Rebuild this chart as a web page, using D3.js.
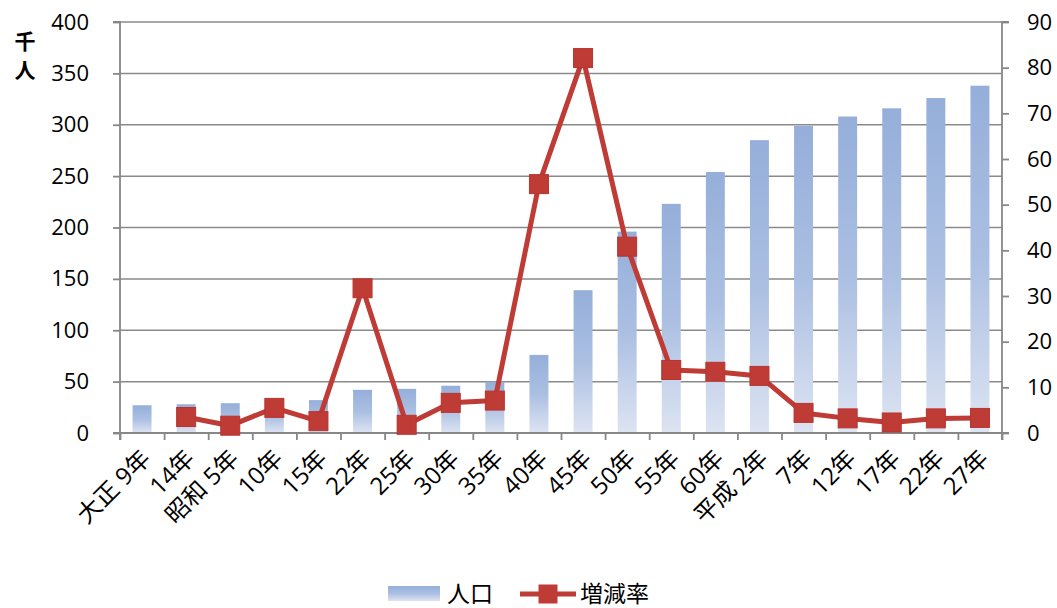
<!DOCTYPE html>
<html><head><meta charset="utf-8">
<script src="https://cdn.jsdelivr.net/npm/d3@7"></script>
<style>
body{margin:0;background:#fff;}
text{font-family:"Open Sans","Noto Sans CJK JP",sans-serif;fill:#000;}
</style></head>
<body><svg id="c" width="1057" height="608"></svg>
<script>
const categories = ["大正 9年","14年","昭和 5年","10年","15年","22年","25年","30年","35年","40年","45年","50年","55年","60年","平成 2年","7年","12年","17年","22年","27年"];
const population = [27,28,29,31,32,42,43,46,50,76,139,196,223,254,285,299,308,316,326,338];
const rate = [null,3.5,1.6,5.5,2.6,31.7,1.8,6.6,7.1,54.5,82.1,40.8,13.8,13.4,12.5,4.4,3.2,2.3,3.2,3.3];
const leftTicks = [0,50,100,150,200,250,300,350,400];
const rightTicks = [0,10,20,30,40,50,60,70,80,90];

const svg = d3.select("#c");
const L = 120, R = 1002, T = 22, B = 433;
const x = d3.scaleBand().domain(d3.range(categories.length)).range([L, R]).paddingInner(0.57).paddingOuter(0.285);
const xEdge = d3.scaleLinear().domain([0, categories.length]).range([L, R]);
const y = d3.scaleLinear().domain([0, 400]).range([B, T]);
const y2 = d3.scaleLinear().domain([0, 90]).range([B, T]);

const defs = svg.append("defs");
const g = defs.append("linearGradient").attr("id","bar").attr("x1",0).attr("y1",0).attr("x2",0).attr("y2",1);
g.append("stop").attr("offset","0%").attr("stop-color","#95afda");
g.append("stop").attr("offset","50%").attr("stop-color","#abbfe2");
g.append("stop").attr("offset","100%").attr("stop-color","#dde4f2");

// gridlines
svg.append("g").selectAll("line").data(leftTicks.filter(d=>d>0)).join("line")
  .attr("x1",L).attr("x2",R).attr("y1",d=>y(d)).attr("y2",d=>y(d))
  .attr("stroke","#8a8a8a").attr("stroke-width",1.5);

// bars
svg.append("g").selectAll("rect").data(population).join("rect")
  .attr("x",(d,i)=>x(i)).attr("width",x.bandwidth())
  .attr("y",d=>y(d)).attr("height",d=>B-y(d))
  .attr("fill","url(#bar)");

// axes
const axisColor = "#878787";
const la = svg.append("g").attr("transform",`translate(${L},0)`)
  .call(d3.axisLeft(y).tickValues(leftTicks).tickSize(7).tickPadding(24));
const ra = svg.append("g").attr("transform",`translate(${R},0)`)
  .call(d3.axisRight(y2).tickValues(rightTicks).tickSize(7).tickPadding(18));
const ba = svg.append("g").attr("transform",`translate(0,${B})`)
  .call(d3.axisBottom(xEdge).tickValues(d3.range(categories.length+1)).tickSize(7).tickFormat(""));
[la,ra,ba].forEach(a=>{
  a.select(".domain").attr("stroke",axisColor).attr("stroke-width",1.8);
  a.selectAll(".tick line").attr("stroke",axisColor).attr("stroke-width",1.8);
  a.selectAll(".tick text").style("font-size","22px").attr("fill","#000");
});
la.select(".domain").attr("d",`M-7,${T}H0V${B}H-7`);
ra.select(".domain").attr("d",`M7,${T}H0V${B}H7`);
ba.select(".domain").attr("d",`M${L},7V0H${R}V7`);

// x labels
svg.append("g").selectAll("text").data(categories).join("text")
  .attr("transform",(d,i)=>`translate(${x(i)+x.bandwidth()/2+4},${B+21}) rotate(-45)`)
  .attr("text-anchor","end").attr("dy","0.35em")
  .style("font-size","24px").text(d=>d);

// y title
svg.append("text").attr("x",25).attr("y",49).attr("text-anchor","middle").style("font-size","21px").style("font-weight","bold").text("千");
svg.append("text").attr("x",25).attr("y",78).attr("text-anchor","middle").style("font-size","21px").style("font-weight","bold").text("人");

// line
const red = "#be3b36";
const line = d3.line().defined(d=>d!==null).x((d,i)=>x(i)+x.bandwidth()/2).y(d=>y2(d));
svg.append("path").datum(rate).attr("d",line).attr("fill","none").attr("stroke",red).attr("stroke-width",5).attr("stroke-linejoin","round");
const ms = 19;
svg.append("g").selectAll("rect").data(rate.map((d,i)=>({d,i})).filter(o=>o.d!==null)).join("rect")
  .attr("x",o=>x(o.i)+x.bandwidth()/2-ms/2).attr("y",o=>y2(o.d)-ms/2)
  .attr("width",ms).attr("height",ms).attr("fill",red).attr("stroke","#b8352f").attr("stroke-width",1);

// legend
const ly = 594;
const lg = svg.append("g");
lg.append("rect").attr("x",388).attr("y",ly-8).attr("width",52).attr("height",15).attr("fill","url(#bar)");
lg.append("text").attr("x",447).attr("y",ly).attr("dy","0.35em").style("font-size","23px").text("人口");
lg.append("line").attr("x1",520).attr("x2",576).attr("y1",ly).attr("y2",ly).attr("stroke",red).attr("stroke-width",5);
lg.append("rect").attr("x",548-ms/2).attr("y",ly-ms/2).attr("width",ms).attr("height",ms).attr("fill",red);
lg.append("text").attr("x",580).attr("y",ly).attr("dy","0.35em").style("font-size","23px").text("増減率");
</script></body></html>
